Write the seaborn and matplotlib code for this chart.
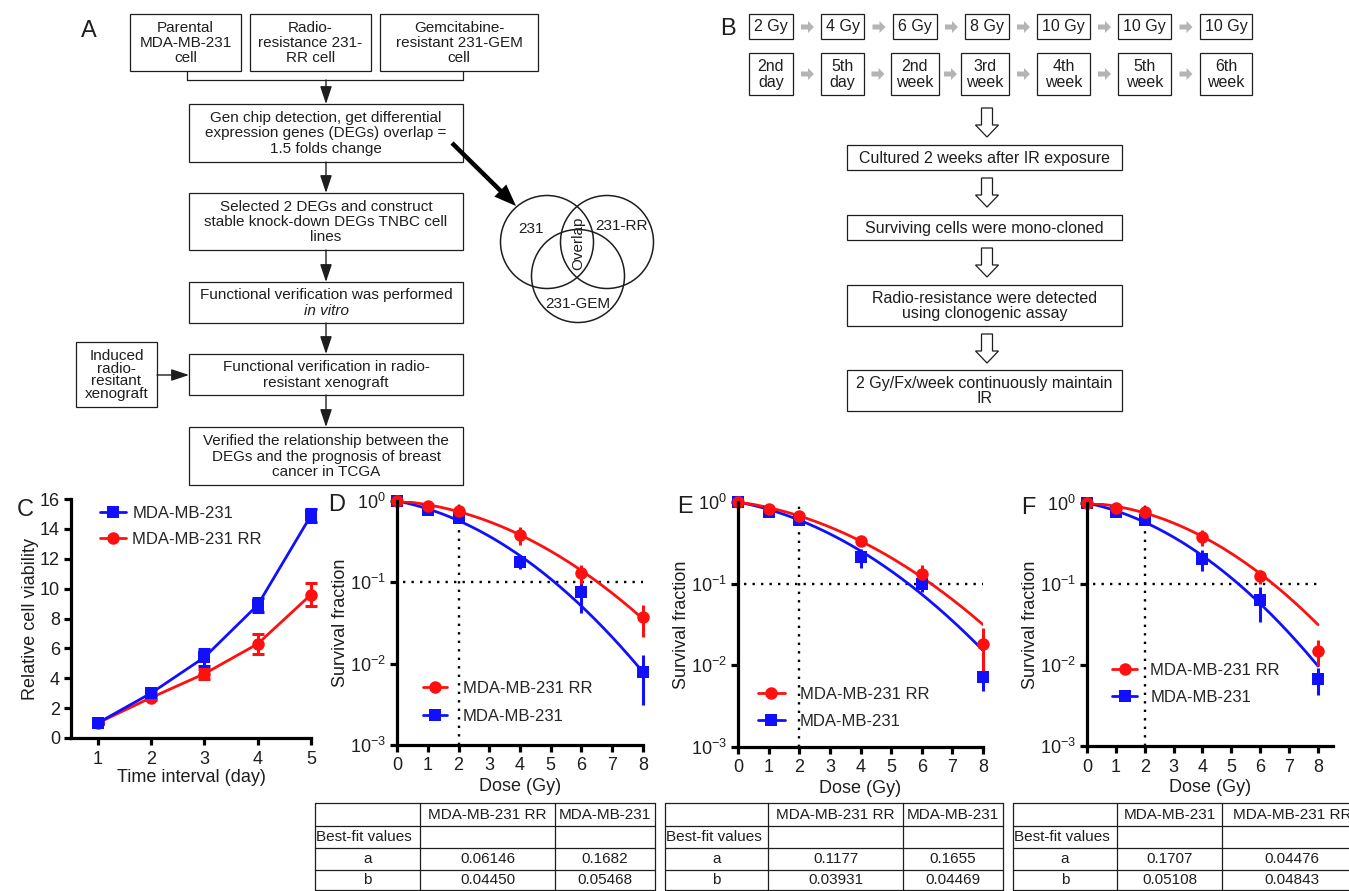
"""Workflow and radio-resistance figure (panels A-F) rebuilt with seaborn/matplotlib."""

import numpy as np
import matplotlib
matplotlib.use('Agg')
import matplotlib.pyplot as plt
import matplotlib.patches as mpatches
from matplotlib.lines import Line2D
from matplotlib.ticker import NullLocator, FixedLocator
import seaborn as sns

W, H = 1349, 891
RED = '#ff1010'
BLUE = '#1010ff'
INK = '#1e1e1e'
FS_A = 11
FS_B = 11.5

# ---- panel C: relative cell viability ----
days = [1, 2, 3, 4, 5]
viab_231 = [1.0, 3.0, 5.4, 8.9, 14.9]
viab_231_err = [0.06, 0.15, 0.55, 0.45, 0.45]
viab_rr = [1.0, 2.7, 4.3, 6.3, 9.6]
viab_rr_err = [0.06, 0.15, 0.35, 0.65, 0.75]

# ---- panels D-F: clonogenic survival ----
doses = [0, 1, 2, 4, 6, 8]

sf_d_rr = [1.0, 0.86, 0.755, 0.38, 0.13, 0.037]
sf_d_rr_err = [0, 0.03, 0.04, 0.095, 0.035, 0.016]
sf_d_231 = [1.0, 0.77, 0.61, 0.18, 0.075, 0.0079]
sf_d_231_err = [0, 0.03, 0.04, 0.034, 0.033, 0.0048]

sf_e_rr = [1.0, 0.83, 0.67, 0.33, 0.13, 0.018]
sf_e_rr_err = [0, 0.03, 0.04, 0.04, 0.037, 0.011]
sf_e_231 = [1.0, 0.75, 0.61, 0.21, 0.10, 0.0071]
sf_e_231_err = [0, 0.03, 0.03, 0.056, 0.022, 0.0022]

sf_f_rr = [1.0, 0.875, 0.78, 0.38, 0.126, 0.015]
sf_f_rr_err = [0, 0.02, 0.03, 0.085, 0.025, 0.0053]
sf_f_231 = [1.0, 0.77, 0.61, 0.206, 0.063, 0.0068]
sf_f_231_err = [0, 0.03, 0.03, 0.06, 0.029, 0.0025]

# linear-quadratic best-fit values (tables under D, E, F)
lq_a_rr = [0.06146, 0.1177, 0.04476]
lq_b_rr = [0.04450, 0.03931, 0.04843]
lq_a_231 = [0.1682, 0.1655, 0.1707]
lq_b_231 = [0.05468, 0.04469, 0.05108]

# table column order as printed (F swaps the two lines)
table_cols = [['MDA-MB-231 RR', 'MDA-MB-231'],
              ['MDA-MB-231 RR', 'MDA-MB-231'],
              ['MDA-MB-231', 'MDA-MB-231 RR']]
table_a = [['0.06146', '0.1682'], ['0.1177', '0.1655'], ['0.1707', '0.04476']]
table_b = [['0.04450', '0.05468'], ['0.03931', '0.04469'], ['0.05108', '0.04843']]

# panel B schedule
doses_b = ['2 Gy', '4 Gy', '6 Gy', '8 Gy', '10 Gy', '10 Gy', '10 Gy']
times_b = ['2nd\nday', '5th\nday', '2nd\nweek', '3rd\nweek', '4th\nweek', '5th\nweek', '6th\nweek']

sns.set_theme(style='ticks')
plt.rcParams['font.family'] = ['Liberation Sans', 'DejaVu Sans']
plt.rcParams['mathtext.fontset'] = 'custom'
plt.rcParams['mathtext.rm'] = 'Liberation Sans'
plt.rcParams['mathtext.default'] = 'regular'
plt.rcParams['axes.unicode_minus'] = True

fig = plt.figure(figsize=(W / 100, H / 100), dpi=100)
fig.patch.set_facecolor('white')

ov = fig.add_axes([0, 0, 1, 1], zorder=0)
ov.set_xlim(0, W)
ov.set_ylim(H, 0)
ov.axis('off')


def rect_px(x0, y0, x1, y1):
    return [x0 / W, 1 - y1 / H, (x1 - x0) / W, (y1 - y0) / H]


def box(x0, y0, x1, y1, text='', fs=FS_A, ls=1.12, lw=0.9):
    ov.add_patch(mpatches.Rectangle((x0, y0), x1 - x0, y1 - y0, fill=False,
                                    ec=INK, lw=lw))
    if text:
        ov.text((x0 + x1) / 2, (y0 + y1) / 2 + 0.5, text, ha='center', va='center',
                fontsize=fs, linespacing=ls, color=INK)


def thin_arrow(x0, y0, x1, y1):
    ov.annotate('', xy=(x1, y1), xytext=(x0, y0),
                arrowprops=dict(arrowstyle='-|>,head_length=0.9,head_width=0.3',
                                color=INK, lw=1.0, shrinkA=0, shrinkB=0,
                                mutation_scale=12))


def gray_arrow(xc, yc):
    ov.add_patch(mpatches.FancyArrow(xc - 6, yc, 13, 0, width=5, head_width=12,
                                     head_length=6, length_includes_head=True,
                                     color='#b4b4b4', lw=0))


def hollow_down(xc, y0, y1):
    ov.add_patch(mpatches.FancyArrow(xc, y0, 0, y1 - y0, width=11, head_width=23,
                                     head_length=12, length_includes_head=True,
                                     fc='white', ec=INK, lw=0.9))


# ---------------- panel A ----------------
ov.text(89, 31, 'A', fontsize=17, ha='center', va='center', color=INK)
box(130, 14, 241, 71, 'Parental\nMDA-MB-231\ncell')
box(250, 14, 371, 71, 'Radio-\nresistance 231-\nRR cell')
box(380, 14, 538, 71, 'Gemcitabine-\nresistant 231-GEM\ncell')
ov.plot([187, 187, 463, 463], [71, 80, 80, 71], color=INK, lw=0.9)
thin_arrow(326, 80, 326, 104)
box(189, 104, 463, 162, 'Gen chip detection, get differential\n'
    'expression genes (DEGs) overlap =\n1.5 folds change')
thin_arrow(326, 162, 326, 193)
box(189, 193, 463, 250, 'Selected 2 DEGs and construct\n'
    'stable knock-down DEGs TNBC cell\nlines')
thin_arrow(326, 250, 326, 282)
box(189, 282, 463, 323)
ov.text(326, 294.5, 'Functional verification was performed', ha='center',
        va='center', fontsize=FS_A, color=INK)
ov.text(326, 311, 'in vitro', ha='center', va='center', fontsize=FS_A,
        style='italic', color=INK)
thin_arrow(326, 323, 326, 354)
box(189, 354, 463, 395, 'Functional verification in radio-\nresistant xenograft')
box(76, 342, 157, 407, 'Induced\nradio-\nresitant\nxenograft', ls=0.9)
thin_arrow(157, 375, 189, 375)
thin_arrow(326, 395, 326, 427)
box(189, 427, 463, 485, 'Verified the relationship between the\n'
    'DEGs and the prognosis of breast\ncancer in TCGA')

ov.add_patch(mpatches.FancyArrow(452, 143, 64, 63, width=4.5, head_width=17,
                                 head_length=22, length_includes_head=True,
                                 color='black', lw=0))
for cx, cy in [(547, 242), (607, 242), (578, 276)]:
    ov.add_patch(mpatches.Circle((cx, cy), 46.5, fill=False, ec=INK, lw=1.1))
ov.text(531, 229, '231', ha='center', va='center', fontsize=FS_A, color=INK)
ov.text(621, 226, '231-RR', ha='center', va='center', fontsize=FS_A, color=INK)
ov.text(578, 304, '231-GEM', ha='center', va='center', fontsize=FS_A, color=INK)
ov.text(578, 243, 'Overlap', ha='center', va='center', fontsize=FS_A, rotation=90,
        color=INK)

# ---------------- panel B ----------------
ov.text(728, 29, 'B', fontsize=17, ha='center', va='center', color=INK)
row_x = [(749, 793), (821, 864), (893, 937), (965, 1009), (1037, 1090),
         (1118, 1171), (1200, 1252)]
row2_x = [(749, 793), (821, 864), (891, 939), (961, 1009), (1037, 1090),
          (1118, 1171), (1200, 1252)]
for (x0, x1), lab in zip(row_x, doses_b):
    box(x0, 14, x1, 39, lab, fs=FS_B)
for (x0, x1), lab in zip(row2_x, times_b):
    box(x0, 53, x1, 95, lab, fs=FS_B, ls=1.02)
for i in range(len(row_x) - 1):
    gray_arrow((row_x[i][1] + row_x[i + 1][0]) / 2, 27)
    gray_arrow((row2_x[i][1] + row2_x[i + 1][0]) / 2, 74)

hollow_down(987, 108, 137)
box(847, 145, 1122, 170, 'Cultured 2 weeks after IR exposure', fs=FS_B)
hollow_down(987, 178, 207)
box(847, 215, 1122, 240, 'Surviving cells were mono-cloned', fs=FS_B)
hollow_down(987, 248, 277)
box(847, 285, 1122, 326, 'Radio-resistance were detected\nusing clonogenic assay',
    fs=FS_B, ls=1.06)
hollow_down(987, 334, 363)
box(847, 370, 1122, 411, '2 Gy/Fx/week continuously maintain\nIR', fs=FS_B, ls=1.06)


# ---------------- shared axis styling ----------------
def style_axis(ax):
    ax.set_facecolor('none')
    sns.despine(ax=ax)
    for side in ['left', 'bottom']:
        ax.spines[side].set_linewidth(2.3)
        ax.spines[side].set_color('black')
    ax.tick_params(axis='both', which='major', width=2.3, length=5, color='black',
                   labelsize=13, labelcolor=INK, direction='out', pad=3)
    ax.tick_params(axis='x', pad=4)


# ---------------- panel C ----------------
ov.text(25, 510, 'C', fontsize=17, ha='center', va='center', color=INK)
axC = fig.add_axes(rect_px(71, 499, 311, 738), zorder=1)
axC.errorbar(days, viab_rr, yerr=viab_rr_err, fmt='none', ecolor=RED,
             elinewidth=2.2, capsize=4.5, capthick=2.2, clip_on=False)
sns.lineplot(x=days, y=viab_rr, ax=axC, color=RED, lw=2, marker='o',
             markersize=9, markeredgewidth=0, clip_on=False)
axC.errorbar(days, viab_231, yerr=viab_231_err, fmt='none', ecolor=BLUE,
             elinewidth=2.2, capsize=4.5, capthick=2.2, clip_on=False)
sns.lineplot(x=days, y=viab_231, ax=axC, color=BLUE, lw=2, marker='s',
             markersize=8.5, markeredgewidth=0, clip_on=False)
axC.set_xlim(0.5, 5)
axC.set_ylim(0, 16)
axC.set_xticks(days)
axC.set_yticks(range(0, 17, 2))
style_axis(axC)
axC.set_xlabel('Time interval (day)', fontsize=13, color=INK)
axC.set_ylabel('Relative cell viability', fontsize=13, color=INK)
axC.xaxis.set_label_coords(0.5, -0.13)
axC.yaxis.set_label_coords(-0.135, 0.5)
handles = [Line2D([], [], color=BLUE, lw=2, marker='s', ms=8.5, mew=0),
           Line2D([], [], color=RED, lw=2, marker='o', ms=9, mew=0)]
axC.legend(handles, ['MDA-MB-231', 'MDA-MB-231 RR'], loc='center left',
           bbox_to_anchor=(0.12, 0.885), frameon=False, fontsize=12,
           handlelength=1.6, handletextpad=0.35, labelspacing=0.65,
           borderpad=0, borderaxespad=0)


# ---------------- panels D, E, F ----------------
def survival_panel(letter, letter_xy, rect, idx, sf_rr, err_rr, sf_231, err_231,
                   xmax, leg_anchor, leg_hl, leg_pad):
    ov.text(letter_xy[0], letter_xy[1], letter, fontsize=17, ha='center',
            va='center', color=INK)
    ax = fig.add_axes(rect_px(*rect), zorder=1)
    grid = np.linspace(0, 8, 200)
    fit_231 = np.exp(-(lq_a_231[idx] * grid + lq_b_231[idx] * grid ** 2))
    fit_rr = np.exp(-(lq_a_rr[idx] * grid + lq_b_rr[idx] * grid ** 2))
    ax.plot([0.2, 8], [0.1, 0.1], color='black', lw=1.7, ls=(0, (1, 2.6)))
    ax.plot([2, 2], [1e-3, 1], color='black', lw=1.7, ls=(0, (1, 2.6)))
    sns.lineplot(x=grid, y=fit_231, ax=ax, color=BLUE, lw=2)
    sns.lineplot(x=grid, y=fit_rr, ax=ax, color=RED, lw=2)
    ax.errorbar(doses, sf_231, yerr=err_231, fmt='s', color=BLUE, ms=8.5, mew=0,
                elinewidth=2.2, capsize=4.5, capthick=2.2, clip_on=False)
    ax.errorbar(doses, sf_rr, yerr=err_rr, fmt='o', color=RED, ms=9, mew=0,
                elinewidth=2.2, capsize=4.5, capthick=2.2, clip_on=False)
    ax.set_yscale('log')
    ax.set_ylim(1e-3, 1)
    ax.set_xlim(0, xmax)
    ax.xaxis.set_major_locator(FixedLocator(range(0, 9)))
    ax.yaxis.set_major_locator(FixedLocator([1e-3, 1e-2, 1e-1, 1]))
    ax.yaxis.set_minor_locator(NullLocator())
    style_axis(ax)
    ax.set_xlabel('Dose (Gy)', fontsize=13, color=INK)
    ax.set_ylabel('Survival fraction', fontsize=13, color=INK)
    ax.xaxis.set_label_coords(0.5, -0.135)
    ax.yaxis.set_label_coords(-0.195, 0.5)
    h_rr = Line2D([], [], color=RED, lw=2, marker='o', ms=9, mew=0)
    h_231 = Line2D([], [], color=BLUE, lw=2, marker='s', ms=8.5, mew=0)
    ax.legend([h_rr, h_231], ['MDA-MB-231 RR', 'MDA-MB-231'], loc='center left',
              bbox_to_anchor=leg_anchor, frameon=False, fontsize=12,
              handlelength=leg_hl, handletextpad=leg_pad, labelspacing=0.75,
              borderpad=0, borderaxespad=0)
    return ax


survival_panel('D', (337, 505), (397, 501, 643, 745), 0, sf_d_rr, sf_d_rr_err,
               sf_d_231, sf_d_231_err, 8, (0.106, 0.174), 1.45, 0.95)
survival_panel('E', (685, 507), (738, 502, 983, 747), 1, sf_e_rr, sf_e_rr_err,
               sf_e_231, sf_e_231_err, 8, (0.082, 0.159), 1.6, 0.9)
survival_panel('F', (1028, 508), (1087, 503, 1333, 746), 2, sf_f_rr, sf_f_rr_err,
               sf_f_231, sf_f_231_err, 8.52, (0.102, 0.255), 1.5, 0.8)


# ---------------- best-fit tables ----------------
def draw_table(xs, cols, avals, bvals):
    ys = [803, 825.5, 847.5, 869.5, 890]
    for y in ys:
        ov.plot([xs[0], xs[-1]], [y, y], color=INK, lw=0.9)
    for x in xs:
        ov.plot([x, x], [ys[0], ys[-1]], color=INK, lw=0.9)
    fs = 11
    mids = [(xs[i] + xs[i + 1]) / 2 for i in range(3)]
    rows = [(ys[i] + ys[i + 1]) / 2 + 0.5 for i in range(4)]
    for j in range(2):
        ov.text(mids[j + 1], rows[0], cols[j], ha='center', va='center', fontsize=fs,
                color=INK)
        ov.text(mids[j + 1], rows[2], avals[j], ha='center', va='center', fontsize=fs,
                color=INK)
        ov.text(mids[j + 1], rows[3], bvals[j], ha='center', va='center', fontsize=fs,
                color=INK)
    ov.text(xs[0] + 1.5, rows[1], 'Best-fit values', ha='left', va='center',
            fontsize=fs, color=INK)
    ov.text(mids[0], rows[2], 'a', ha='center', va='center', fontsize=fs, color=INK)
    ov.text(mids[0], rows[3], 'b', ha='center', va='center', fontsize=fs, color=INK)


draw_table([315, 420, 555, 655], table_cols[0], table_a[0], table_b[0])
draw_table([665, 768, 903, 1003], table_cols[1], table_a[1], table_b[1])
draw_table([1013, 1117, 1222, 1362], table_cols[2], table_a[2], table_b[2])

fig.savefig('out.png', dpi=100)
plt.close(fig)
